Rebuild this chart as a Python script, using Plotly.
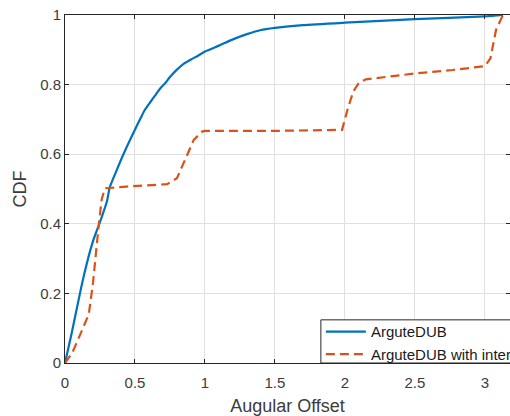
import plotly.graph_objects as go

# Empirical CDF of the angular offset (radians), read as sampled curve points
offset_dub = [0, 0.05, 0.13, 0.2, 0.25, 0.3, 0.32, 0.36, 0.42, 0.51, 0.54, 0.57,
              0.61, 0.65, 0.68, 0.72, 0.75, 0.8, 0.85, 0.9, 0.95, 1.0, 1.1, 1.2,
              1.3, 1.4, 1.5, 1.7, 2.0, 2.5, 3.0, 3.13]
cdf_dub = [0, 0.09, 0.243, 0.35, 0.405, 0.465, 0.505, 0.545, 0.602, 0.679, 0.703,
           0.727, 0.75, 0.772, 0.789, 0.806, 0.822, 0.843, 0.86, 0.872, 0.883,
           0.895, 0.912, 0.93, 0.945, 0.957, 0.963, 0.971, 0.978, 0.988, 0.996,
           1.0]

offset_inter = [0, 0.05, 0.08, 0.17, 0.2, 0.215, 0.24, 0.262, 0.285, 0.44, 0.73,
                0.8, 0.87, 0.92, 0.98, 1.0, 1.5, 1.98, 2.02, 2.06, 2.1, 2.15,
                2.5, 2.77, 3.0, 3.04, 3.08, 3.13]
cdf_inter = [0, 0.028, 0.055, 0.14, 0.23, 0.3, 0.392, 0.47, 0.502, 0.507, 0.514,
             0.531, 0.598, 0.641, 0.665, 0.667, 0.667, 0.67, 0.73, 0.78, 0.805,
             0.815, 0.832, 0.842, 0.853, 0.875, 0.957, 1.0]

x_ticks = [0, 0.5, 1, 1.5, 2, 2.5, 3]
y_ticks = [0, 0.2, 0.4, 0.6, 0.8, 1]

BLUE = "#0072BD"
ORANGE = "#D95319"
AXIS = "#262626"
LABEL = "#3c3c3c"
FONT = "Liberation Sans, Arial, sans-serif"

fig = go.Figure()
fig.add_trace(go.Scatter(x=offset_dub, y=cdf_dub, mode="lines", name="ArguteDUB",
                         line=dict(color=BLUE, width=2.2, shape="spline", smoothing=0.6)))
fig.add_trace(go.Scatter(x=offset_inter, y=cdf_inter, mode="lines",
                         name="ArguteDUB with interference",
                         line=dict(color=ORANGE, width=2.2, dash="9px,5px")))

axis_common = dict(
    showline=True, linecolor=AXIS, linewidth=1, mirror="ticks",
    ticks="inside", ticklen=4, tickcolor=AXIS,
    showgrid=True, gridcolor="#e0e0e0", gridwidth=1,
    zeroline=False, tickfont=dict(family=FONT, size=15, color=LABEL),
)

# Compact legend frame sitting on the lower-right corner of the axes
fig.add_shape(type="rect", xref="paper", yref="paper",
              x0=0.575, x1=1.05, y0=0, y1=0.124, layer="above",
              fillcolor="white", line=dict(color=AXIS, width=1))

fig.update_layout(
    width=510, height=416,
    margin=dict(l=65, r=0, t=15, b=53, autoexpand=False),
    paper_bgcolor="white", plot_bgcolor="white",
    font=dict(family=FONT, color=AXIS),
    xaxis=dict(axis_common, range=[0, 3.18], tickvals=x_ticks,
               ticktext=[f"{v:g}" for v in x_ticks], ticklabelstandoff=6,
               title=dict(text="Augular Offset", font=dict(family=FONT, size=18, color=LABEL),
                          standoff=11)),
    yaxis=dict(axis_common, range=[0, 1], tickvals=y_ticks,
               ticktext=[f"{v:g}" for v in y_ticks],
               title=dict(text="CDF", font=dict(family=FONT, size=18, color=LABEL),
                          standoff=8)),
    legend=dict(x=0.575, y=-0.021, xanchor="left", yanchor="bottom",
                bgcolor="rgba(0,0,0,0)", borderwidth=0,
                font=dict(family=FONT, size=15, color="#1a1a1a"),
                tracegroupgap=0, itemwidth=40),
    showlegend=True,
)

fig.write_html("out.html")
